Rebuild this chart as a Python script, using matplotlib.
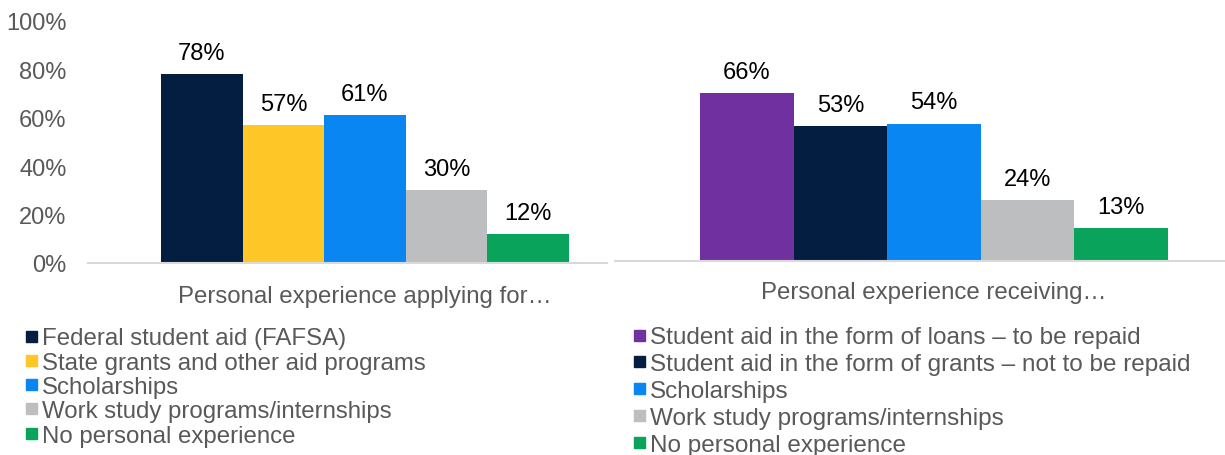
import matplotlib

matplotlib.use("Agg")
import matplotlib.pyplot as plt
from matplotlib.patches import Rectangle

plt.rcParams["font.family"] = ["Liberation Sans", "DejaVu Sans"]

# survey shares, percent
apply_labels = [
    "Federal student aid (FAFSA)",
    "State grants and other aid programs",
    "Scholarships",
    "Work study programs/internships",
    "No personal experience",
]
apply_values = [78, 57, 61, 30, 12]

receive_labels = [
    "Student aid in the form of loans \u2013 to be repaid",
    "Student aid in the form of grants \u2013 not to be repaid",
    "Scholarships",
    "Work study programs/internships",
    "No personal experience",
]
receive_values = [66, 53, 54, 24, 13]

NAVY, YELLOW, BLUE, GRAY, GREEN, PURPLE = (
    "#041E42", "#FFC627", "#0A86F2", "#BDBEC0", "#0AA35B", "#7030A0")
apply_colors = [NAVY, YELLOW, BLUE, GRAY, GREEN]
receive_colors = [PURPLE, NAVY, BLUE, GRAY, GREEN]

TXT = "#595959"
AXLINE = "#D9D9D9"
W, H = 1225, 456


def px_axes(fig, x0, x1, ytop, ybot):
    return fig.add_axes([x0 / W, 1 - ybot / H, (x1 - x0) / W, (ybot - ytop) / H])


def bars(ax, values, colors, bar_px, left_px, right_px):
    pos = range(len(values))
    rects = ax.bar(pos, values, width=1.0, color=colors, zorder=2)
    ax.set_xlim(-0.5 - left_px / bar_px, len(values) - 0.5 + right_px / bar_px)
    ax.set_ylim(0, 100)
    for r, v in zip(rects, values):
        ax.annotate(f"{v}%", (r.get_x() + r.get_width() / 2, v),
                    xytext=(0, 7.5), textcoords="offset points",
                    ha="center", va="bottom", fontsize=17, color="black")
    for s in ("top", "right", "left"):
        ax.spines[s].set_visible(False)
    ax.spines["bottom"].set_color(AXLINE)
    ax.spines["bottom"].set_linewidth(1.5)
    ax.set_xticks([])
    ax.patch.set_alpha(0)
    return rects


def legend(fig, labels, colors, x_box, y0, step, size):
    for i, (lab, c) in enumerate(zip(labels, colors)):
        yc = y0 + i * step
        fig.add_artist(Rectangle((x_box / W, 1 - (yc + 5.5) / H), 11 / W, 11 / H,
                                 transform=fig.transFigure, color=c))
        fig.text((x_box + 16) / W, 1 - yc / H, lab, ha="left", va="center_baseline",
                 fontsize=size, color=TXT)


fig = plt.figure(figsize=(W / 100, H / 100), dpi=100)

ax1 = px_axes(fig, 88, 607, 22, 264)
bars(ax1, apply_values, apply_colors, 81.6, 73, 38)
ax1.set_yticks(range(0, 101, 20))
ax1.set_yticklabels([f"{t}%" for t in range(0, 101, 20)], fontsize=17, color=TXT)
ax1.tick_params(axis="y", length=0, pad=15.5)

ax2 = px_axes(fig, 615, 1225, 8, 262)
bars(ax2, receive_values, receive_colors, 93.6, 85, 57)
ax2.set_yticks([])

fig.text(365 / W, 1 - 297 / H, "Personal experience applying for\u2026",
         ha="center", va="center", fontsize=17.3, color=TXT)
fig.text(934 / W, 1 - 293 / H, "Personal experience receiving\u2026",
         ha="center", va="center", fontsize=17.3, color=TXT)

legend(fig, apply_labels, apply_colors, 26, 337, 24.3, 17.3)
legend(fig, receive_labels, receive_colors, 634, 336, 26.8, 17.5)

fig.savefig("out.png", dpi=100)
